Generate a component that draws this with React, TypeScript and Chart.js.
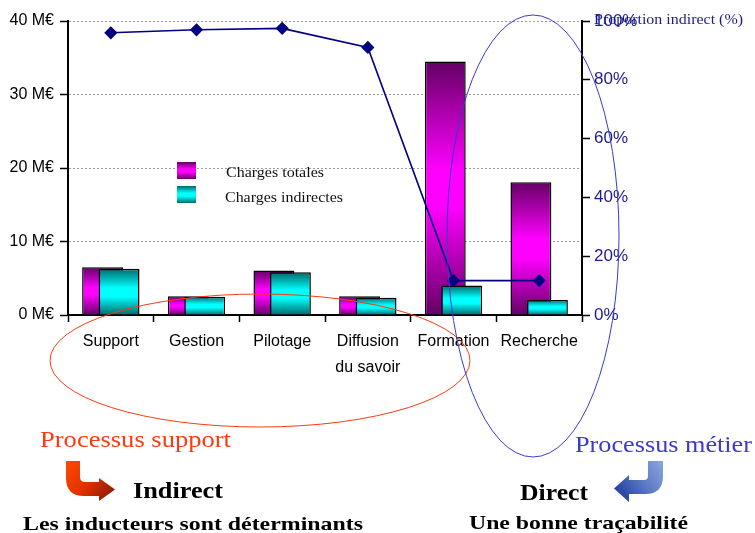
import React, { useEffect, useRef } from 'react';
import { Chart, registerables } from 'chart.js';
Chart.register(...registerables);

// ---- data ----
const categories: (string | string[])[] = ['Support', 'Gestion', 'Pilotage', ['Diffusion', 'du savoir'], 'Formation', 'Recherche'];
const chargesTotales = [6.5, 2.55, 6.05, 2.55, 34.5, 18.05]; // M€
const chargesIndirectes = [6.3, 2.5, 5.8, 2.35, 4.0, 2.05]; // M€
const proportionIndirect = [96, 97, 97.5, 91, 11.7, 11.7]; // %
const leftTickValues = [0, 10, 20, 30, 40];
const rightTickValues = [0, 20, 40, 60, 80, 100];
const seriesNames = ['Charges totales', 'Charges indirectes', 'Proportion indirect (%)'];
const noteSupport = 'Processus support';
const noteMetier = 'Processus métier';
const noteIndirect = 'Indirect';
const noteIndirectSub = 'Les inducteurs sont déterminants';
const noteDirect = 'Direct';
const noteDirectSub = 'Une bonne traçabilité';

const SANS = "'Liberation Sans', Arial, sans-serif";
const SERIF = "'Liberation Serif', 'Times New Roman', serif";
const NAVY = '#000080';
const AXIS_TEXT_NAVY = '#1c1c8a';

function magentaGradient(c: CanvasRenderingContext2D, top: number, bottom: number) {
  const g = c.createLinearGradient(0, top, 0, bottom);
  g.addColorStop(0, '#640064');
  g.addColorStop(0.43, '#ff00ff');
  g.addColorStop(0.57, '#ff00ff');
  g.addColorStop(1, '#640064');
  return g;
}
function cyanGradient(c: CanvasRenderingContext2D, top: number, bottom: number) {
  const g = c.createLinearGradient(0, top, 0, bottom);
  g.addColorStop(0, '#006a6a');
  g.addColorStop(0.42, '#00ffff');
  g.addColorStop(0.6, '#00ffff');
  g.addColorStop(1, '#006a6a');
  return g;
}

function fitText(c: CanvasRenderingContext2D, text: string, x: number, y: number, font: string, color: string, width: number) {
  c.save();
  c.font = font;
  c.fillStyle = color;
  c.textAlign = 'left';
  c.textBaseline = 'alphabetic';
  const w = c.measureText(text).width;
  c.translate(x, y);
  c.scale(width / w, 1);
  c.fillText(text, 0, 0);
  c.restore();
}

const barGradient = (kind: 'm' | 'c') => (ctx: any) => {
  const chart = ctx.chart;
  const fallback = kind === 'm' ? '#cc00cc' : '#00e0e0';
  if (!chart.chartArea || ctx.type !== 'data') return fallback;
  const y = chart.scales.y;
  const top = y.getPixelForValue(ctx.raw);
  const base = y.getPixelForValue(0);
  return kind === 'm' ? magentaGradient(chart.ctx, top, base) : cyanGradient(chart.ctx, top, base);
};

const orderPlugin = {
  id: 'drawOrder',
  beforeDatasetDraw(chart: any, args: any) {
    if (args.index === 1) return false;
    return true;
  },
  afterDatasetDraw(chart: any, args: any) {
    if (args.index === 0) {
      chart.getDatasetMeta(1).controller.draw();
    }
  },
};

const decorPlugin = {
  id: 'decor',
  afterDraw(chart: any) {
    const c: CanvasRenderingContext2D = chart.ctx;
    // legend
    c.save();
    c.fillStyle = magentaGradient(c, 162, 179);
    c.fillRect(177, 162, 19, 17);
    c.fillStyle = cyanGradient(c, 186, 203);
    c.fillRect(177, 186, 19, 17);
    c.restore();
    fitText(c, seriesNames[0], 226, 177, `14px ${SERIF}`, '#111', 98);
    fitText(c, seriesNames[1], 225, 202, `14px ${SERIF}`, '#111', 118);
    // right axis title
    fitText(c, seriesNames[2], 594, 24, `14px ${SERIF}`, AXIS_TEXT_NAVY, 149);

    // ellipses
    c.save();
    c.lineWidth = 1;
    c.strokeStyle = '#ff3a10';
    c.beginPath();
    c.ellipse(260, 360.5, 210, 66.5, 0, 0, Math.PI * 2);
    c.stroke();
    c.strokeStyle = '#3a3ad0';
    c.beginPath();
    c.ellipse(533, 236, 86, 221, 0, 0, Math.PI * 2);
    c.stroke();
    c.restore();

    // annotation texts
    fitText(c, noteSupport, 40, 446.5, `23px ${SERIF}`, '#ff3a10', 191);
    fitText(c, noteMetier, 575, 452, `23px ${SERIF}`, '#3a3ad0', 177);
    fitText(c, noteIndirect, 133, 497.5, `bold 23px ${SERIF}`, '#000', 90);
    fitText(c, noteIndirectSub, 23, 530, `bold 19px ${SERIF}`, '#000', 340);
    fitText(c, noteDirect, 520, 499.5, `bold 23px ${SERIF}`, '#000', 68);
    fitText(c, noteDirectSub, 469, 529, `bold 19px ${SERIF}`, '#000', 219);

    // orange bent arrow
    c.save();
    let g = c.createLinearGradient(66, 462, 115, 500);
    g.addColorStop(0, '#ff4a00');
    g.addColorStop(0.5, '#e03000');
    g.addColorStop(1, '#7a1800');
    c.fillStyle = g;
    c.beginPath();
    c.moveTo(66, 461);
    c.lineTo(80, 461);
    c.lineTo(80, 477);
    c.quadraticCurveTo(80, 482, 85, 482);
    c.lineTo(99, 482);
    c.lineTo(99, 478);
    c.lineTo(115, 489.5);
    c.lineTo(99, 501);
    c.lineTo(99, 496);
    c.lineTo(84, 496);
    c.quadraticCurveTo(66, 496, 66, 478);
    c.closePath();
    c.fill();
    // blue bent arrow
    g = c.createLinearGradient(663, 460, 615, 495);
    g.addColorStop(0, '#8fa8dc');
    g.addColorStop(0.5, '#5a78c4');
    g.addColorStop(1, '#1c3a9c');
    c.fillStyle = g;
    c.beginPath();
    c.moveTo(648, 461);
    c.lineTo(663, 461);
    c.lineTo(663, 476);
    c.quadraticCurveTo(663, 494, 645, 494);
    c.lineTo(629, 494);
    c.lineTo(629, 502);
    c.lineTo(614, 488.5);
    c.lineTo(629, 475);
    c.lineTo(629, 480);
    c.lineTo(644, 480);
    c.quadraticCurveTo(648, 480, 648, 476);
    c.closePath();
    c.fill();
    c.restore();
  },
};

export default function App() {
  const ref = useRef<HTMLCanvasElement>(null);
  useEffect(() => {
    if (!ref.current) return;
    const chart = new Chart(ref.current, {
      type: 'bar',
      data: {
        labels: categories as any,
        datasets: [
          {
            label: seriesNames[0],
            data: chargesTotales,
            yAxisID: 'y',
            backgroundColor: barGradient('m') as any,
            borderColor: '#000',
            borderWidth: 1.5,
            categoryPercentage: 0.385,
            barPercentage: 2.48,
          },
          {
            label: seriesNames[1],
            data: chargesIndirectes,
            yAxisID: 'y',
            backgroundColor: barGradient('c') as any,
            borderColor: '#000',
            borderWidth: 1.5,
            categoryPercentage: 0.385,
            barPercentage: 2.48,
          },
          {
            type: 'line',
            label: seriesNames[2],
            data: proportionIndirect,
            yAxisID: 'y1',
            borderColor: NAVY,
            backgroundColor: NAVY,
            borderWidth: 1.6,
            pointStyle: 'rectRot',
            pointRadius: 5.5,
            pointBackgroundColor: NAVY,
            pointBorderColor: NAVY,
            tension: 0,
            order: -1,
          } as any,
        ],
      },
      options: {
        responsive: false,
        animation: false,
        events: [],
        layout: { padding: { left: 0, right: 0, top: 21, bottom: 0 } },
        plugins: { legend: { display: false }, tooltip: { enabled: false } },
        scales: {
          x: {
            offset: true,
            grid: { drawOnChartArea: false, offset: true, tickLength: 7, tickColor: '#000', tickWidth: 1.5 },
            border: { display: true, color: '#000', width: 2 },
            ticks: { color: '#000', font: { family: SANS, size: 16, lineHeight: 1.6 }, padding: 7, maxRotation: 0, autoSkip: false },
            afterFit: (s: any) => { s.height = 533 - 315; },
          },
          y: {
            position: 'left',
            min: 0,
            max: 40,
            afterBuildTicks: (s: any) => { s.ticks = leftTickValues.map((v) => ({ value: v })); },
            ticks: { color: '#000', font: { family: SANS, size: 16 }, padding: 6, callback: (v: any) => `${v} M€` },
            grid: { color: '#9a9a9a', lineWidth: 1, tickLength: 8, tickColor: '#000', tickWidth: 1.5, drawTicks: true },
            border: { display: true, color: '#000', width: 2, dash: [2, 2] },
            afterFit: (s: any) => { s.width = 68; },
          },
          y1: {
            position: 'right',
            min: 0,
            max: 100,
            afterBuildTicks: (s: any) => { s.ticks = rightTickValues.map((v) => ({ value: v })); },
            ticks: { color: AXIS_TEXT_NAVY, font: { family: SANS, size: 17 }, padding: 4, callback: (v: any) => `${v}%` },
            grid: { drawOnChartArea: false, tickLength: 8, tickColor: '#000', tickWidth: 1.5 },
            border: { display: true, color: '#000', width: 2 },
            afterFit: (s: any) => { s.width = 755 - 582; },
          },
        },
      } as any,
      plugins: [orderPlugin, decorPlugin],
    });
    return () => chart.destroy();
  }, []);
  return (
    <div style={{ position: 'absolute', left: 0, top: 0, width: 755, height: 533, background: '#fff' }}>
      <canvas ref={ref} width={755} height={533} style={{ width: 755, height: 533, display: 'block' }} />
    </div>
  );
}
